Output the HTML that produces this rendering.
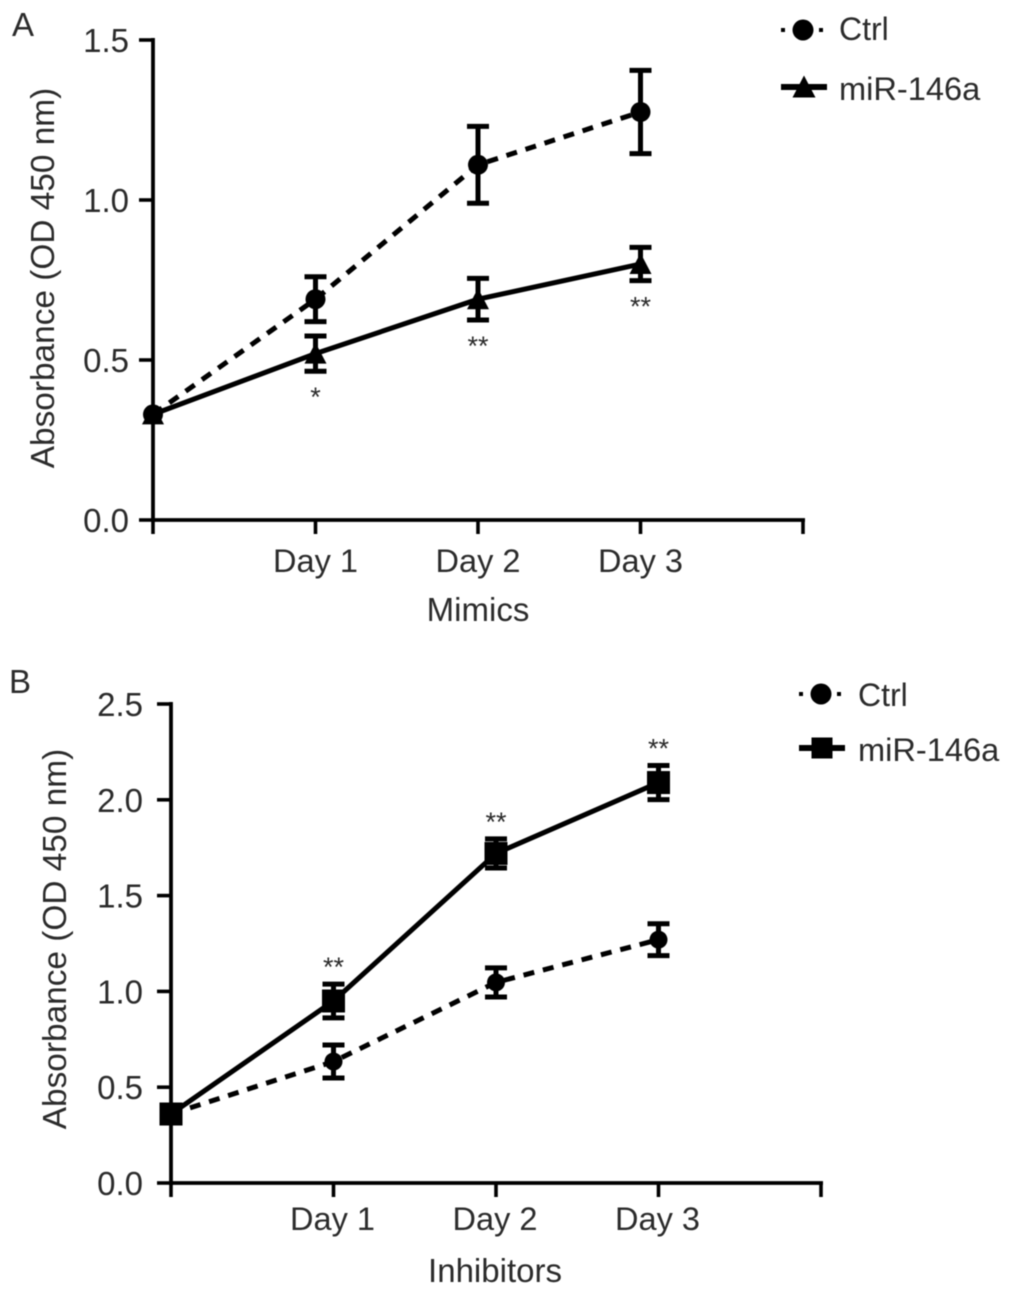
<!DOCTYPE html>
<html>
<head>
<meta charset="utf-8">
<style>
html,body{margin:0;padding:0;background:#fff;width:1011px;height:1295px;overflow:hidden}
svg{display:block;filter:blur(.4px)}
text{font-family:"Liberation Sans",sans-serif;fill:#2b2b2b}
</style>
</head>
<body>
<svg id="chart" width="1011" height="1295" viewBox="0 0 1011 1295" xmlns="http://www.w3.org/2000/svg"></svg>
<script>
const categories = ['', 'Day 1', 'Day 2', 'Day 3', ''];
const ticksA = [0, 0.5, 1, 1.5];
const ticksB = [0, 0.5, 1, 1.5, 2, 2.5];
const ctrlA = [0.33, 0.69, 1.11, 1.275];
const ctrlAErr = [0.02, 0.07, 0.12, 0.13];
const mirA = [0.33, 0.52, 0.69, 0.80];
const mirAErr = [0.02, 0.055, 0.065, 0.052];
const sigA = ['', '*', '**', '**'];
const ctrlB = [0.36, 0.634, 1.047, 1.27];
const ctrlBErr = [0.02, 0.086, 0.076, 0.083];
const mirB = [0.36, 0.95, 1.72, 2.09];
const mirBErr = [0.02, 0.088, 0.076, 0.089];
const sigB = ['', '**', '**', '**'];

const svg = document.getElementById('chart');
const NS = 'http://www.w3.org/2000/svg';
function add(tag, attrs, parent, text) {
  const el = document.createElementNS(NS, tag);
  for (const k in attrs) el.setAttribute(k, attrs[k]);
  if (text !== undefined) el.textContent = text;
  (parent || svg).appendChild(el);
  return el;
}
function marker(kind, x, y, r, g) {
  if (kind === 'circle') return add('circle', {cx:x, cy:y, r:r, fill:'#000'}, g);
  if (kind === 'square') return add('rect', {x:x-r, y:y-r, width:2*r, height:2*r, fill:'#000'}, g);
  return add('polygon', {points:`${x},${y-r-1} ${x+r+1},${y+r} ${x-r-1},${y+r}`, fill:'#000'}, g);
}
function drawSeries(name, vals, errs, sx, sy, kind, dashed, r, cap) {
  const g = add('g', {});
  
  
  const pts = vals.map((v, i) => sx(i) + ',' + sy(v)).join(' ');
  const line = add('polyline', {points:pts, fill:'none', stroke:'#000', 'stroke-width':5}, g);
  if (dashed) line.setAttribute('stroke-dasharray', '11 9');
  
  
  vals.forEach((v, i) => {
    const x = sx(i);
    if (i > 0) {
      const t = sy(v + errs[i]), b = sy(v - errs[i]);
      const e = add('path', {d:`M${x} ${t}V${b}M${x-cap} ${t}H${x+cap}M${x-cap} ${b}H${x+cap}`, fill:'none', stroke:'#000', 'stroke-width':5}, g);
      
      
    }
    const m = marker(kind, x, sy(v), r, g);
    
    
  });
}
function panel(o) {
  const sx = i => o.x0 + i * o.step;
  const sy = v => o.y0 - v * o.perUnit;
  const g = add('g', {});
  
  
  const top = sy(o.ticks[o.ticks.length - 1]);
  add('path', {d:`M${o.x0} ${top-2}V${o.y0+2}M${o.x0-1} ${o.y0}H${sx(4)+2}`, fill:'none', stroke:'#000', 'stroke-width':3.8}, g);
  o.ticks.forEach(t => {
    add('path', {d:`M${o.x0-14} ${sy(t)}H${o.x0}`, stroke:'#000', 'stroke-width':3.6}, g);
    const lab = add('text', {x:o.x0-o.tickGap, y:sy(t)+12, 'text-anchor':'end', 'font-size':33}, g, t.toFixed(1));
    
    
  });
  categories.forEach((c, i) => {
    add('path', {d:`M${sx(i)} ${o.y0}V${o.y0+14}`, stroke:'#000', 'stroke-width':3.6}, g);
    if (c) {
      const lab = add('text', {x:sx(i)+o.catShift, y:o.y0+o.catDy, 'text-anchor':'middle', 'font-size':32.5}, g, c);
      
      
    }
  });
  const xt = add('text', {x:o.xTitleX, y:o.xTitleY, 'text-anchor':'middle', 'font-size':33}, g, o.xTitle);
  
  
  const yt = add('text', {transform:`translate(${o.yTitleX} ${o.yTitleY}) rotate(-90)`, 'text-anchor':'middle', 'font-size':33.4}, g, 'Absorbance (OD 450 nm)');
  
  
  const pl = add('text', {x:o.labelX, y:o.labelY, 'font-size':33}, g, o.id === 'panel-a' ? 'A' : 'B');
  
  

  drawSeries('ctrl', o.ctrl, o.ctrlErr, sx, sy, 'circle', true, o.circleR, 11);
  drawSeries('mir-146a', o.mir, o.mirErr, sx, sy, o.kind, false, o.kind === 'square' ? 11.5 : 10, 11);

  o.sig.forEach((s, i) => {
    if (!s) return;
    const base = o.sigBelow ? sy(o.mir[i] - o.mirErr[i]) + 35 : sy(o.mir[i] + o.mirErr[i]) - 8;
    const st = add('text', {x:sx(i), y:base, 'text-anchor':'middle', 'font-size':27}, g, s);
    
    
  });

  const l1 = add('g', {});
  
  
  add('line', {x1:o.legX, x2:o.legX+44, y1:o.legY1, y2:o.legY1, stroke:'#000', 'stroke-width':4, 'stroke-dasharray':'4 34'}, l1);
  marker('circle', o.legX+22, o.legY1, 10.5, l1);
  add('text', {x:o.legTextX, y:o.legText1, 'font-size':32}, l1, 'Ctrl');
  const l2 = add('g', {});
  
  
  add('line', {x1:o.legX, x2:o.legX+46, y1:o.legY2, y2:o.legY2, stroke:'#000', 'stroke-width':6}, l2);
  marker(o.kind, o.legX+23, o.legY2, 10.5, l2);
  add('text', {x:o.legTextX, y:o.legText2, 'font-size':32.6}, l2, 'miR-146a');
}
panel({id:'panel-a', x0:153, step:162.5, y0:520, perUnit:320, ticks:ticksA, ctrl:ctrlA, ctrlErr:ctrlAErr, mir:mirA, mirErr:mirAErr, sig:sigA, sigBelow:true, kind:'triangle', circleR:10, tickGap:24, catShift:0, catDy:52, xTitle:'Mimics', xTitleX:478, xTitleY:621, yTitleX:54, yTitleY:278, labelX:12, labelY:36, legX:781, legY1:30, legY2:87, legTextX:839, legText1:40, legText2:100});
panel({id:'panel-b', x0:171, step:162.5, y0:1183, perUnit:191.6, ticks:ticksB, ctrl:ctrlB, ctrlErr:ctrlBErr, mir:mirB, mirErr:mirBErr, sig:sigB, sigBelow:false, kind:'square', circleR:9, tickGap:28, catShift:-1, catDy:47, xTitle:'Inhibitors', xTitleX:495, xTitleY:1282, yTitleX:66, yTitleY:939, labelX:9, labelY:693, legX:799, legY1:694, legY2:748, legTextX:858, legText1:706, legText2:761});
</script>
</body>
</html>
